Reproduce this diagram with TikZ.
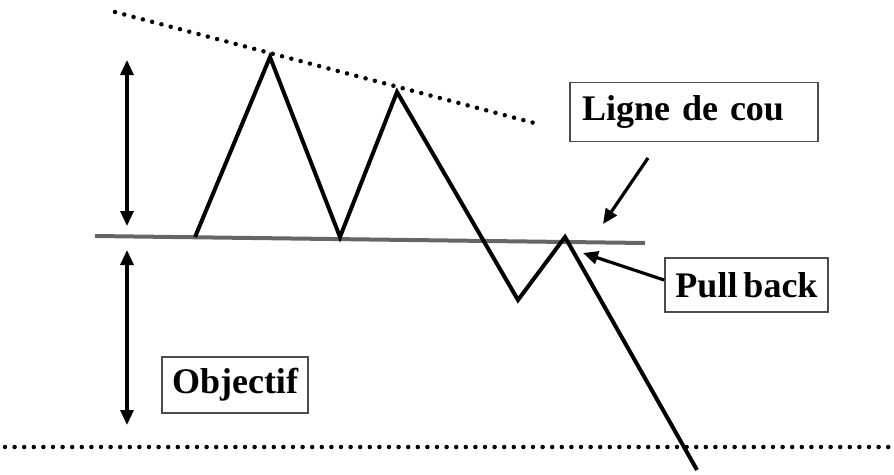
\documentclass[tikz,border=0pt]{standalone}
\usepackage{fontspec}
\setmainfont{Liberation Serif}
\usetikzlibrary{arrows.meta}
\begin{document}
\begin{tikzpicture}[x=1pt,y=-1pt,
  labelbox/.style={draw=black!70,line width=1.6pt,inner sep=0pt,
    font=\fontsize{36}{42}\selectfont\bfseries},
  price/.style={line width=4pt,line join=miter},
  dots/.style={line width=4.5pt,line cap=round,dash pattern=on 0pt off 9.6pt},
  span/.style={line width=3.2pt,{Triangle[length=15pt,width=13pt]}-{Triangle[length=15pt,width=13pt]}},
  pointer/.style={line width=3.2pt,-{Triangle[length=15pt,width=13pt]}}]
  \useasboundingbox (0,0) rectangle (894,474);
  % trend lines
  \draw[dots] (115,12) -- (538,124);
  \draw[dots] (5,447) -- (894,447);
  % neckline
  \coordinate (nl) at (95,236);
  \coordinate (nr) at (645,243);
  \draw[line width=4pt,black!60] (nl) -- (nr);
  % price path
  \coordinate (p0) at (195,237);
  \coordinate (h1) at (270,57);
  \coordinate (t1) at (340,237);
  \coordinate (h2) at (397,92);
  \coordinate (t2) at (518,300);
  \coordinate (pb) at (565,237);
  \coordinate (p6) at (697,470);
  \draw[price] (p0) -- (h1) -- (t1) -- (h2) -- (t2) -- (pb) -- (p6);
  % heights
  \draw[span] (127,60) -- (127,226);
  \draw[span] (127,250) -- (127,425);
  % labels
  \node[labelbox,minimum width=248,minimum height=59,text width=224,align=left] (cou) at (694,112) {Ligne de cou};
  \node[labelbox,minimum width=163,minimum height=54] (pull) at (746.5,285) {Pull\,back};
  \node[labelbox,minimum width=146,minimum height=56] (obj) at (235,385) {Objectif};
  \coordinate (coutip) at (603,224);
  \coordinate (pulltip) at (583,253);
  \draw[pointer] (648,158) -- (coutip);
  \draw[pointer] (pull.west) ++(0,-5) -- (pulltip);
\end{tikzpicture}
\end{document}
